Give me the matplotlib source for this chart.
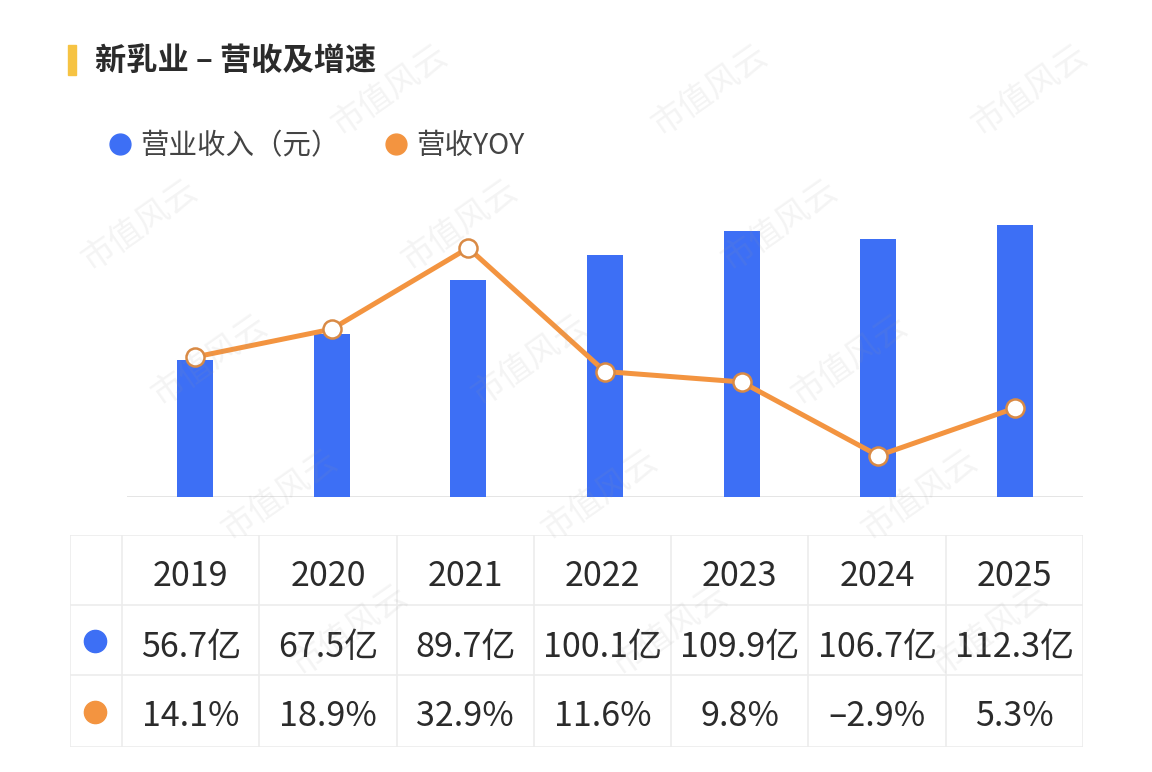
import matplotlib
matplotlib.use("Agg")
import matplotlib.pyplot as plt
from matplotlib.lines import Line2D
import numpy as np

plt.rcParams['font.family'] = ['Noto Sans CJK SC', 'DejaVu Sans']

# ---------------- data ----------------
years = ["2019", "2020", "2021", "2022", "2023", "2024", "2025"]
revenue = [56.7, 67.5, 89.7, 100.1, 109.9, 106.7, 112.3]      # 亿元
yoy = [14.1, 18.9, 32.9, 11.6, 9.8, -2.9, 5.3]                 # %
title = "新乳业 – 营收及增速"
legend_labels = ["营业收入（元）", "营收YOY"]
watermark = "市值风云"

BLUE = "#3d6ff5"
ORANGE = "#f39440"
ORANGE_EDGE = "#d98a45"
TEXT = "#2b2b2b"
GRID = "#ececec"

W, H = 1152, 772
fig = plt.figure(figsize=(W / 100, H / 100), dpi=100)
fig.patch.set_facecolor("white")


def fx(px):
    return px / W


def fy(py):
    return 1 - py / H


# ---------------- chart ----------------
ax = fig.add_axes([fx(126.6), fy(497), fx(956.7), (497 - 200) / H])
x = np.arange(len(years))
ax.bar(x, revenue, width=0.263, color=BLUE, zorder=2)
ax.set_xlim(-0.5, 6.5)
ax.set_ylim(0, 122.7)
ax.axhline(0, color="#e2e2e2", lw=2, zorder=1)
ax.axis("off")

ax2 = ax.twinx()
ax2.plot(x, yoy, color=ORANGE, lw=3.6, zorder=3, solid_capstyle="round",
         marker="o", markersize=13, markerfacecolor="white",
         markeredgecolor=ORANGE_EDGE, markeredgewidth=1.8)
ax2.set_ylim(-10.03, 41.17)
ax2.set_xlim(-0.5, 6.5)
ax2.axis("off")

# ---------------- title & legend ----------------
fig.patches.append(plt.Rectangle((fx(68), fy(75)), fx(8), (75 - 45) / H,
                                 transform=fig.transFigure, color="#f6c343"))
fig.text(fx(95), fy(61), title, fontsize=22.5, fontweight="bold", color=TEXT,
         va="center", ha="left")

leg_handles = [
    Line2D([], [], ls="none", marker="o", markersize=15, color=BLUE),
    Line2D([], [], ls="none", marker="o", markersize=15, color=ORANGE),
]
fig.legend(leg_handles, legend_labels, loc="center left",
           bbox_to_anchor=(fx(80), fy(146)), ncol=2, frameon=False,
           fontsize=20.5, handletextpad=0.2, columnspacing=1.5,
           labelcolor="#444444", handlelength=1.0)

# ---------------- table ----------------
tx0, tx1, ty0, ty1 = 70, 1083, 535, 747
tab = fig.add_axes([fx(tx0), fy(ty1), fx(tx1 - tx0), (ty1 - ty0) / H])
tab.set_xlim(tx0, tx1)
tab.set_ylim(ty1, ty0)
tab.axis("off")
first_w = 52
col_w = (tx1 - tx0 - first_w) / len(years)
row_edges = [535, 605, 675, 747]
col_edges = [tx0, tx0 + first_w] + [tx0 + first_w + col_w * (i + 1) for i in range(len(years))]
for yv in row_edges:
    tab.plot([tx0, tx1], [yv, yv], color=GRID, lw=1.2)
for xv in col_edges:
    tab.plot([xv, xv], [ty0, ty1], color=GRID, lw=1.2)

row_centers = [(row_edges[i] + row_edges[i + 1]) / 2 for i in range(3)]
for i, yr in enumerate(years):
    cx = tx0 + first_w + col_w * (i + 0.5)
    tab.text(cx, row_centers[0] + 7, yr, ha="center", va="center",
             fontsize=24.5, fontweight="medium", color=TEXT)
    tab.text(cx, row_centers[1] + 7, f"{revenue[i]:.1f}亿", ha="center", va="center",
             fontsize=24.5, color=TEXT)
    g = yoy[i]
    gs = f"{g:.1f}%" if g >= 0 else f"–{abs(g):.1f}%"
    tab.text(cx, row_centers[2] + 6, gs, ha="center", va="center",
             fontsize=24.5, color=TEXT)
tab.plot([95], [row_centers[1] + 1], marker="o", markersize=16, color=BLUE, ls="none")
tab.plot([95], [row_centers[2] + 1], marker="o", markersize=16, color=ORANGE, ls="none")

# ---------------- watermark ----------------
for i in range(6):
    for j in range(6):
        wx = -250 + 320 * j + 70 * i
        wy = 90 + 135 * i
        if 70 < wx < W - 70 and 60 < wy < H - 60:
            fig.text(fx(wx), fy(wy), watermark, fontsize=24, color="#9a9a9a",
                     alpha=0.11, rotation=35, ha="center", va="center",
                     fontweight="light", zorder=10)

fig.savefig("out.png", dpi=100, facecolor="white")
